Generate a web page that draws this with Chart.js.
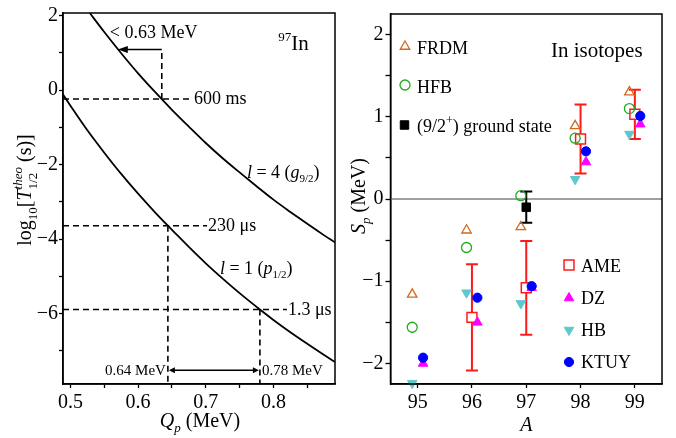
<!DOCTYPE html>
<html><head><meta charset="utf-8">
<script src="https://cdn.jsdelivr.net/npm/chart.js@4"></script>
<style>
html,body{margin:0;padding:0;background:#fff;}
#wrap{position:relative;width:676px;height:438px;overflow:hidden;background:#fff;}
#c1{position:absolute;left:0;top:0;}
#c2{position:absolute;left:340px;top:0;}
</style></head><body>
<div id="wrap"><canvas id="c1" width="340" height="438"></canvas><canvas id="c2" width="336" height="438"></canvas></div>
<script>
// ---------- Left panel data ----------
const qL4    = [0.5286,0.55,0.575,0.60,0.625,0.65,0.675,0.70,0.725,0.75,0.775,0.80,0.825,0.85,0.875,0.891];
const logTL4 = [2.07,1.56,0.99,0.45,-0.05,-0.53,-0.98,-1.42,-1.83,-2.21,-2.58,-2.94,-3.27,-3.59,-3.90,-4.09];
const qL1    = [0.489,0.50,0.525,0.55,0.575,0.60,0.625,0.644,0.65,0.675,0.70,0.725,0.75,0.78,0.80,0.825,0.85,0.875,0.891];
const logTL1 = [-0.12,-0.42,-1.08,-1.68,-2.25,-2.78,-3.28,-3.64,-3.75,-4.21,-4.65,-5.06,-5.45,-5.89,-6.17,-6.50,-6.81,-7.11,-7.30];
const halfLifeLabels = ['600 ms','230 \u03bcs','1.3 \u03bcs'];
const halfLifeLog    = [-0.24,-3.64,-5.89];
const halfLifeQ      = [0.635,0.644,0.78];
const guideEndQ      = [0.681,0.702,0.82];
const qLimitArrowY   = 1.09;
const qLimitArrowTip = 0.570;
const qLimitLabel    = '< 0.63 MeV';
const qRange         = [0.644,0.78];
const qRangeLabels   = ['0.64 MeV','0.78 MeV'];
const qRangeArrowY   = -7.52;
const leftXTicks  = [0.5,0.55,0.6,0.65,0.7,0.75,0.8,0.85];
const leftXLabels = [0.5,0.6,0.7,0.8];
const leftYTicks  = [2,1,0,-1,-2,-3,-4,-5,-6,-7];
const leftYLabels = [2,0,-2,-4,-6];

// ---------- Right panel data ----------
const massNumbers = [95,96,97,98,99];
const frdm = [-1.16,-0.38,-0.34,0.89,1.30];
const hfb  = [-1.56,-0.59,0.04,0.74,1.10];
const dz   = [-2.00,-1.50,-1.08,0.45,0.91];
const hb   = [-2.24,-1.14,-1.27,0.24,0.79];
const ktuy = [-1.93,-1.20,-1.06,0.58,1.01];
const ameA   = [96,97,98,99];
const ame    = [-1.44,-1.08,0.73,1.03];
const ameErr = [0.645,0.57,0.42,0.30];
const gsA    = [97];
const gs     = [-0.10];
const gsErr  = [0.19];
const rightXTicks  = [95,96,97,98,99];
const rightYTicks  = [-2,-1.5,-1,-0.5,0,0.5,1,1.5,2];
const rightYLabels = [-2,-1,0,1,2];

// ---------- helpers ----------
const FONT = '"Liberation Serif","Times New Roman",serif';
Chart.defaults.font.family = FONT;
Chart.defaults.color = '#000';
const fmt = v => (v < 0 ? '\u2212' + Math.abs(v) : String(v));
const has = (arr, v) => arr.some(t => Math.abs(t - v) < 1e-6);
const pts = (xs, ys, dx=0) => xs.map((x,i)=>({x:x+dx, y:ys[i]}));

function rich(ctx, segs, x, y, align, angle){
  ctx.save();
  ctx.translate(x, y);
  if (angle) ctx.rotate(angle);
  ctx.textBaseline = 'alphabetic';
  ctx.textAlign = 'left';
  const lay = []; let cx = 0, prev = 0;
  for (const s of segs){
    ctx.font = (s.i ? 'italic ' : '') + s.s + 'px ' + FONT;
    const w = ctx.measureText(s.t).width;
    const x0 = s.stack ? prev : cx;
    lay.push({s, x0});
    cx = Math.max(cx, x0 + w); prev = x0;
  }
  const off = align === 'center' ? -cx/2 : align === 'right' ? -cx : 0;
  for (const {s, x0} of lay){
    ctx.font = (s.i ? 'italic ' : '') + s.s + 'px ' + FONT;
    ctx.fillStyle = '#000';
    ctx.fillText(s.t, off + x0, s.dy || 0);
  }
  ctx.restore();
}
function arrowHead(ctx, x, y, dir, len, hw){
  ctx.beginPath();
  ctx.moveTo(x, y);
  ctx.lineTo(x - dir*len, y - hw);
  ctx.lineTo(x - dir*len, y + hw);
  ctx.closePath(); ctx.fill();
}
function marker(ctx, style, x, y, r, rot, fill, stroke, lw){
  ctx.beginPath();
  if (style === 'circle') ctx.arc(x, y, r, 0, Math.PI*2);
  else if (style === 'rect'){ const s = r*Math.SQRT1_2; ctx.rect(x-s, y-s, 2*s, 2*s); }
  else {
    let a = (rot||0)*Math.PI/180;
    ctx.moveTo(x + Math.sin(a)*r, y - Math.cos(a)*r);
    a += 2*Math.PI/3; ctx.lineTo(x + Math.sin(a)*r, y - Math.cos(a)*r);
    a += 2*Math.PI/3; ctx.lineTo(x + Math.sin(a)*r, y - Math.cos(a)*r);
    ctx.closePath();
  }
  if (fill){ ctx.fillStyle = fill; ctx.fill(); }
  if (stroke){ ctx.strokeStyle = stroke; ctx.lineWidth = lw; ctx.stroke(); }
}

// ---------- Left chart ----------
const curve = (xs, ys) => ({data: pts(xs, ys), showLine:true, borderColor:'#000', borderWidth:1.8,
  pointRadius:0, cubicInterpolationMode:'monotone', fill:false});
const dashed = (a, b) => ({data:[a, b], showLine:true, borderColor:'#000', borderWidth:1.6,
  borderDash:[6,4], pointRadius:0, tension:0, fill:false});
const solid = (a, b) => ({data:[a, b], showLine:true, borderColor:'#000', borderWidth:1.6,
  pointRadius:0, tension:0, fill:false});

const leftSets = [curve(qL4, logTL4), curve(qL1, logTL1)];
const Q_MIN = 0.489, Q_MAX = 0.891, T_MIN = -7.89, T_MAX = 2.07;
halfLifeLog.forEach((v, i) => {
  leftSets.push(dashed({x:Q_MIN, y:v}, {x:guideEndQ[i], y:v}));
});
leftSets.push(dashed({x:halfLifeQ[0], y:halfLifeLog[0]}, {x:halfLifeQ[0], y:qLimitArrowY}));
leftSets.push(dashed({x:halfLifeQ[1], y:halfLifeLog[1]}, {x:halfLifeQ[1], y:T_MIN}));
leftSets.push(dashed({x:halfLifeQ[2], y:halfLifeLog[2]}, {x:halfLifeQ[2], y:T_MIN}));
leftSets.push(solid({x:halfLifeQ[0], y:qLimitArrowY}, {x:qLimitArrowTip + 0.012, y:qLimitArrowY}));
leftSets.push(solid({x:qRange[0] + 0.006, y:qRangeArrowY}, {x:qRange[1] - 0.006, y:qRangeArrowY}));

const leftAnnot = {
  id:'leftAnnot',
  afterDraw(chart){
    const {ctx, chartArea:a, scales:{x, y}} = chart;
    ctx.save();
    ctx.strokeStyle = '#000'; ctx.lineWidth = 1.5;
    ctx.strokeRect(a.left, a.top, a.right - a.left, a.bottom - a.top);
    ctx.fillStyle = '#000';
    // arrow heads
    const ay = y.getPixelForValue(qLimitArrowY);
    const tip = x.getPixelForValue(qLimitArrowTip);
    arrowHead(ctx, tip, ay, -1, 10, 3.5);
    const ry = y.getPixelForValue(qRangeArrowY);
    const r0 = x.getPixelForValue(qRange[0]), r1 = x.getPixelForValue(qRange[1]);
    arrowHead(ctx, r0 + 1, ry, -1, 6, 3);
    arrowHead(ctx, r1 - 1, ry, 1, 6, 3);
    // labels
    ctx.font = '18px ' + FONT; ctx.textBaseline = 'middle'; ctx.textAlign = 'left';
    halfLifeLabels.forEach((t, i) => {
      ctx.fillText(t, x.getPixelForValue(guideEndQ[i]) + 1, y.getPixelForValue(halfLifeLog[i]) + 0.5);
    });
    ctx.textBaseline = 'alphabetic';
    ctx.fillText(qLimitLabel, tip - 8, ay - 12);
    ctx.font = '15px ' + FONT;
    ctx.textAlign = 'right'; ctx.fillText(qRangeLabels[0], r0 - 2, ry + 5);
    ctx.textAlign = 'left';  ctx.fillText(qRangeLabels[1], r1 + 2, ry + 5);
    // curve labels
    rich(ctx, [{t:'l', s:18, i:true}, {t:' = 4 (', s:18}, {t:'g', s:18, i:true}, {t:'9/2', s:11, dy:4}, {t:')', s:18}],
      x.getPixelForValue(0.7608), y.getPixelForValue(-2.37), 'left');
    rich(ctx, [{t:'l', s:18, i:true}, {t:' = 1 (', s:18}, {t:'p', s:18, i:true}, {t:'1/2', s:11, dy:4}, {t:')', s:18}],
      x.getPixelForValue(0.7209), y.getPixelForValue(-4.93), 'left');
    rich(ctx, [{t:'97', s:13, dy:-9}, {t:'In', s:21}],
      x.getPixelForValue(0.807), y.getPixelForValue(1.07), 'left');
    // axis titles
    rich(ctx, [{t:'log', s:20}, {t:'10', s:13, dy:6}, {t:'[', s:20}, {t:'T', s:20, i:true},
      {t:'theo', s:13, i:true, dy:-9}, {t:'1/2', s:13, dy:6, stack:true}, {t:' (s)]', s:20}],
      31, 190, 'center', -Math.PI/2);
    rich(ctx, [{t:'Q', s:20, i:true}, {t:'p', s:13, i:true, dy:5}, {t:' (MeV)', s:20}],
      (a.left + a.right)/2 + 1, 427, 'center');
    ctx.restore();
  }
};

new Chart(document.getElementById('c1'), {
  type:'scatter',
  data:{datasets:leftSets},
  options:{
    responsive:false, animation:false, devicePixelRatio:1,
    layout:{padding:{top:10, right:5, left:0, bottom:0}},
    plugins:{legend:{display:false}, tooltip:{enabled:false}},
    scales:{
      x:{type:'linear', min:Q_MIN, max:Q_MAX,
        afterFit(s){ s.height = 54; },
        afterBuildTicks(s){ s.ticks = leftXTicks.map(v => ({value:v})); },
        ticks:{autoSkip:false, maxRotation:0, padding:3, font:{size:20},
          callback:(v) => has(leftXLabels, v) ? v.toFixed(1) : ''},
        grid:{drawOnChartArea:false, drawTicks:true, tickLength:4, tickColor:'#000', tickWidth:1.3},
        border:{display:true, color:'#000', width:1.5}},
      y:{type:'linear', min:T_MIN, max:T_MAX,
        afterFit(s){ s.width = 63; },
        afterBuildTicks(s){ s.ticks = leftYTicks.map(v => ({value:v})); },
        ticks:{autoSkip:false, padding:1, font:{size:20},
          callback:(v) => has(leftYLabels, v) ? fmt(v) : ''},
        grid:{drawOnChartArea:false, drawTicks:true, tickLength:4, tickColor:'#000', tickWidth:1.3},
        border:{display:true, color:'#000', width:1.5}}
    }
  },
  plugins:[leftAnnot]
});

// ---------- Right chart ----------
const C_FRDM = '#d2691e', C_HFB = '#22aa22', C_DZ = '#ff00ff', C_HB = '#5ec8cc', C_KTUY = '#0000ff', C_AME = '#ff1a1a';
const series = [
  {label:'FRDM', data:pts(massNumbers, frdm, -0.1), pointStyle:'triangle', pointRadius:5.5, pointBackgroundColor:'rgba(0,0,0,0)', pointBorderColor:C_FRDM, pointBorderWidth:1.3, order:3},
  {label:'HFB',  data:pts(massNumbers, hfb, -0.1), pointStyle:'circle', pointRadius:5, pointBackgroundColor:'rgba(0,0,0,0)', pointBorderColor:C_HFB, pointBorderWidth:1.3, order:3},
  {label:'HB',   data:pts(massNumbers, hb, -0.1), pointStyle:'triangle', pointRotation:180, pointRadius:5.5, pointBackgroundColor:C_HB, pointBorderColor:C_HB, pointBorderWidth:1, order:4},
  {label:'AME',  data:pts(ameA, ame), pointStyle:'rect', pointRadius:7, pointBackgroundColor:'#fff', pointBorderColor:C_AME, pointBorderWidth:1.5, order:6},
  {label:'(9/2+) ground state', data:pts(gsA, gs), pointStyle:'rect', pointRadius:6, pointBackgroundColor:'#000', pointBorderColor:'#000', pointBorderWidth:1, order:6},
  {label:'DZ',   data:pts(massNumbers, dz, 0.1), pointStyle:'triangle', pointRadius:5.5, pointBackgroundColor:C_DZ, pointBorderColor:C_DZ, pointBorderWidth:1, order:2},
  {label:'KTUY', data:pts(massNumbers, ktuy, 0.1), pointStyle:'circle', pointRadius:4.6, pointBackgroundColor:C_KTUY, pointBorderColor:C_KTUY, pointBorderWidth:1, order:1}
].map(d => Object.assign({showLine:false, clip:false}, d));

const rightAnnot = {
  id:'rightAnnot',
  beforeDatasetsDraw(chart){
    const {ctx, chartArea:a, scales:{x, y}} = chart;
    ctx.save();
    // zero line
    ctx.strokeStyle = '#7f7f7f'; ctx.lineWidth = 1.6;
    const y0 = y.getPixelForValue(0);
    ctx.beginPath(); ctx.moveTo(a.left, y0); ctx.lineTo(a.right, y0); ctx.stroke();
    // error bars
    const bars = (xs, vs, es, col) => {
      ctx.strokeStyle = col; ctx.lineWidth = 2;
      xs.forEach((xv, i) => {
        const px = x.getPixelForValue(xv);
        const t = y.getPixelForValue(vs[i] + es[i]), b = y.getPixelForValue(vs[i] - es[i]);
        ctx.beginPath();
        ctx.moveTo(px, t); ctx.lineTo(px, b);
        ctx.moveTo(px - 6, t); ctx.lineTo(px + 6, t);
        ctx.moveTo(px - 6, b); ctx.lineTo(px + 6, b);
        ctx.stroke();
      });
    };
    bars(ameA, ame, ameErr, C_AME);
    bars(gsA, gs, gsErr, '#000');
    ctx.restore();
  },
  afterDraw(chart){
    const {ctx, chartArea:a} = chart;
    ctx.save();
    ctx.strokeStyle = '#000'; ctx.lineWidth = 1.5;
    ctx.strokeRect(a.left, a.top, a.right - a.left, a.bottom - a.top);
    // legends
    const ds = chart.data.datasets;
    const byLabel = l => ds.find(d => d.label === l);
    const entry = (lab, mx, my, tx, ty, segs) => {
      const d = byLabel(lab);
      const fill = d.pointBackgroundColor === 'rgba(0,0,0,0)' ? null : d.pointBackgroundColor;
      marker(ctx, d.pointStyle, mx, my, d.pointRadius, d.pointRotation, fill, d.pointBorderColor, d.pointBorderWidth);
      rich(ctx, segs || [{t:lab, s:18}], tx, ty, 'left');
    };
    entry('FRDM', 65, 46.5, 77, 54);
    entry('HFB', 65, 85, 77, 93);
    entry('(9/2+) ground state', 64.5, 125, 77, 132,
      [{t:'(9/2', s:18}, {t:'+', s:12, dy:-8}, {t:') ground state', s:18}]);
    entry('AME', 229, 265, 241, 272);
    entry('DZ', 229, 298, 241, 304);
    entry('HB', 229, 330, 241, 336);
    entry('KTUY', 229, 362, 241, 368);
    rich(ctx, [{t:'In isotopes', s:21}], 211, 57, 'left');
    // axis titles
    rich(ctx, [{t:'S', s:20, i:true}, {t:'p', s:13, i:true, dy:5}, {t:' (MeV)', s:20}], 25, 196, 'center', -Math.PI/2);
    rich(ctx, [{t:'A', s:20, i:true}], x_center(chart), 431, 'center');
    ctx.restore();
  }
};
function x_center(chart){ return chart.scales.x.getPixelForValue(97); }

new Chart(document.getElementById('c2'), {
  type:'scatter',
  data:{datasets:series},
  options:{
    responsive:false, animation:false, devicePixelRatio:1,
    layout:{padding:{top:9, right:14, left:0, bottom:0}},
    plugins:{legend:{display:false}, tooltip:{enabled:false}},
    scales:{
      x:{type:'linear', min:94.5, max:99.5,
        afterFit(s){ s.height = 54; },
        afterBuildTicks(s){ s.ticks = rightXTicks.map(v => ({value:v})); },
        ticks:{autoSkip:false, maxRotation:0, padding:3, font:{size:20}, callback:(v) => String(v)},
        grid:{drawOnChartArea:false, drawTicks:true, tickLength:4, tickColor:'#000', tickWidth:1.3},
        border:{display:true, color:'#000', width:1.5}},
      y:{type:'linear', min:-2.25, max:2.25,
        afterFit(s){ s.width = 50.5; },
        afterBuildTicks(s){ s.ticks = rightYTicks.map(v => ({value:v})); },
        ticks:{autoSkip:false, padding:2, font:{size:20},
          callback:(v) => has(rightYLabels, v) ? fmt(v) : ''},
        grid:{drawOnChartArea:false, drawTicks:true, tickLength:5, tickColor:'#000', tickWidth:1.3},
        border:{display:true, color:'#000', width:1.5}}
    }
  },
  plugins:[rightAnnot]
});
</script>
</body></html>
